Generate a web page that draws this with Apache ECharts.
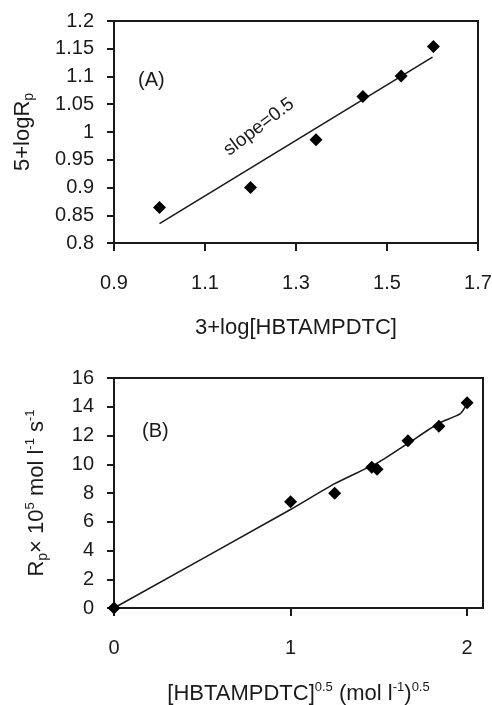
<!DOCTYPE html>
<html>
<head>
<meta charset="utf-8">
<script src="https://cdn.jsdelivr.net/npm/echarts@6/dist/echarts.min.js"></script>
<style>
  html, body { margin: 0; padding: 0; background: #fff; }
  #chart { width: 492px; height: 705px; }
</style>
</head>
<body>
<div id="chart"></div>
<script>
// Panel A: 5+logRp against 3+log[HBTAMPDTC]
const xA = [1.0, 1.2, 1.344, 1.447, 1.531, 1.602];
const yA = [0.864, 0.900, 0.986, 1.064, 1.101, 1.154];
// straight fit line, slope 0.5
const fitXA = [1.0, 1.6];
const fitYA = [0.835, 1.135];

// Panel B: Rp x 10^5 against [HBTAMPDTC]^0.5
const xB = [0, 1.0, 1.25, 1.46, 1.49, 1.665, 1.84, 2.0];
const yB = [0, 7.40, 7.98, 9.80, 9.65, 11.63, 12.65, 14.27];
// smoothed trend curve
const curveXB = [0, 1.0, 1.25, 1.5, 1.665, 1.84, 1.96, 2.0];
const curveYB = [0, 6.85, 8.65, 10.15, 11.45, 12.85, 13.5, 14.2];

// axis tick labels
const ticksXA = [0.9, 1.1, 1.3, 1.5, 1.7];
const ticksXB = [0, 1, 2];

const zip = (a, b) => a.map((v, i) => [v, b[i]]);

const FONT = '"Liberation Sans", Arial, sans-serif';
const INK = '#1a1a1a';

const labelStyle = { color: INK, fontSize: 20, fontFamily: FONT };
const lineStyle = { color: INK, width: 2 };

const chart = echarts.init(document.getElementById('chart'), null, { renderer: 'canvas' });

const nameRich = {
  sub: { fontSize: 14, fontFamily: FONT, color: INK, lineHeight: 14, verticalAlign: 'bottom' },
  sup: { fontSize: 13, fontFamily: FONT, color: INK, lineHeight: 13, verticalAlign: 'top' }
};
const nameStyle = { color: INK, fontSize: 22, fontFamily: FONT, lineHeight: 26, rich: nameRich };

const option = {
  backgroundColor: '#fff',
  animation: false,
  grid: [
    { left: 114, top: 21, width: 364, height: 222, show: true, borderColor: INK, borderWidth: 2,
      outerBoundsMode: 'none', containLabel: false },
    { left: 114, top: 378, width: 369, height: 230, show: true, borderColor: INK, borderWidth: 2,
      outerBoundsMode: 'none', containLabel: false }
  ],
  xAxis: [
    {
      gridIndex: 0, type: 'value', min: 0.9, max: 1.7,
      name: '3+log[HBTAMPDTC]', nameLocation: 'middle', nameGap: 72, nameTextStyle: nameStyle,
      axisLine: { lineStyle: lineStyle },
      axisTick: { length: 8, lineStyle: lineStyle, customValues: ticksXA },
      axisLabel: Object.assign({ margin: 30, customValues: ticksXA }, labelStyle),
      splitLine: { show: false }
    },
    {
      gridIndex: 1, type: 'value', min: 0, max: 2.09,
      name: '[HBTAMPDTC]{sup|0.5} (mol l{sup|-1}){sup|0.5}', nameLocation: 'middle', nameGap: 73,
      nameTextStyle: nameStyle,
      axisLine: { lineStyle: lineStyle },
      axisTick: { length: 8, lineStyle: lineStyle, customValues: ticksXB },
      axisLabel: Object.assign({ margin: 30, customValues: ticksXB }, labelStyle),
      splitLine: { show: false }
    }
  ],
  yAxis: [
    {
      gridIndex: 0, type: 'value', min: 0.8, max: 1.2, interval: 0.05,
      name: '5+logR{sub|p}', nameLocation: 'middle', nameGap: 78, nameTextStyle: nameStyle,
      axisLine: { lineStyle: lineStyle },
      axisTick: { length: 7, lineStyle: lineStyle },
      axisLabel: Object.assign({ margin: 20 }, labelStyle),
      splitLine: { show: false }
    },
    {
      gridIndex: 1, type: 'value', min: 0, max: 16, interval: 2,
      name: 'R{sub|p}× 10{sup|5} mol l{sup|-1} s{sup|-1}', nameLocation: 'middle', nameGap: 64,
      nameTextStyle: nameStyle,
      axisLine: { lineStyle: lineStyle },
      axisTick: { length: 7, lineStyle: lineStyle },
      axisLabel: Object.assign({ margin: 20 }, labelStyle),
      splitLine: { show: false }
    }
  ],
  series: [
    {
      type: 'line', xAxisIndex: 0, yAxisIndex: 0, data: zip(fitXA, fitYA),
      showSymbol: false, lineStyle: { color: INK, width: 1.6 }, z: 2
    },
    {
      type: 'scatter', xAxisIndex: 0, yAxisIndex: 0, data: zip(xA, yA),
      symbol: 'diamond', symbolSize: 13, itemStyle: { color: '#000', opacity: 1 }, z: 3
    },
    {
      type: 'line', xAxisIndex: 1, yAxisIndex: 1, data: zip(curveXB, curveYB),
      smooth: 0.2, showSymbol: false, lineStyle: { color: INK, width: 1.6 }, z: 2
    },
    {
      type: 'scatter', xAxisIndex: 1, yAxisIndex: 1, data: zip(xB, yB),
      symbol: 'diamond', symbolSize: 13, itemStyle: { color: '#000', opacity: 1 }, z: 3
    }
  ],
  graphic: [
    { type: 'text', left: 138, top: 70, style: { text: '(A)', fill: INK, font: '20px ' + FONT } },
    { type: 'text', left: 142, top: 421, style: { text: '(B)', fill: INK, font: '20px ' + FONT } },
    {
      type: 'text', x: 259, y: 127, rotation: 37 * Math.PI / 180,
      style: { text: 'slope=0.5', fill: INK, font: '19px ' + FONT, align: 'center', verticalAlign: 'middle' }
    }
  ]
};

chart.setOption(option);
</script>
</body>
</html>
